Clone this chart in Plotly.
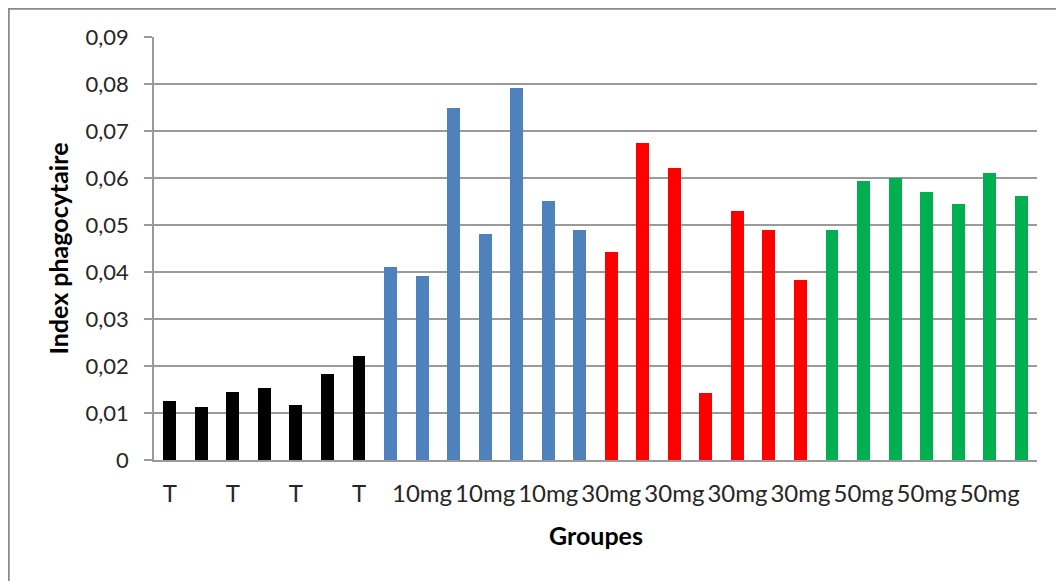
import plotly.graph_objects as go

# ---- data ----
groups = ["T", "10mg", "30mg", "50mg"]
group_colors = ["#000000", "#4F81BD", "#FF0000", "#00B050"]
values_T = [0.0126, 0.0113, 0.0145, 0.0154, 0.0118, 0.0184, 0.0222]
values_10mg = [0.0410, 0.0391, 0.0749, 0.0481, 0.0792, 0.0552, 0.0489]
values_30mg = [0.0443, 0.0674, 0.0621, 0.0143, 0.0530, 0.0489, 0.0383]
values_50mg = [0.0489, 0.0593, 0.0601, 0.0571, 0.0544, 0.0610, 0.0561]
y_tick_vals = [0, 0.01, 0.02, 0.03, 0.04, 0.05, 0.06, 0.07, 0.08, 0.09]
y_tick_text = ["0", "0,01", "0,02", "0,03", "0,04", "0,05", "0,06", "0,07", "0,08", "0,09"]
x_title = "Groupes"
y_title = "Index phagocytaire"

all_values = [values_T, values_10mg, values_30mg, values_50mg]

fig = go.Figure()
labels = []
pos = 1
for name, vals, col in zip(groups, all_values, group_colors):
    xs = list(range(pos, pos + len(vals)))
    labels += [name] * len(vals)
    fig.add_trace(go.Bar(x=xs, y=vals, width=0.41, name=name,
                         marker=dict(color=col, line=dict(width=0)),
                         showlegend=False))
    pos += len(vals)

n = len(labels)
tickvals = list(range(1, n + 1, 2))
ticktext = [labels[i - 1] for i in tickvals]

grid_col = "#9A9A9A"
W, H = 1056, 573
ML, MR, MT, MB = 146, 27, 29, 121
pw, ph = W - ML - MR, H - MT - MB

fig.update_layout(
    width=W, height=H,
    margin=dict(l=ML, r=MR, t=MT, b=MB),
    paper_bgcolor="white", plot_bgcolor="white",
    font=dict(family="Lato", size=23, color="#262626"),
    bargap=0,
)
fig.update_xaxes(range=[0.5, n + 0.5], tickmode="array", tickvals=tickvals,
                 ticktext=ticktext, tickangle=0, showgrid=False,
                 showline=True, linecolor=grid_col, linewidth=1.5,
                 ticks="", ticklabelstandoff=11, zeroline=False,
                 tickfont=dict(family="Lato", size=24, color="#262626"))
fig.update_yaxes(range=[0, 0.09], tickmode="array", tickvals=y_tick_vals,
                 ticktext=y_tick_text, showgrid=True, gridcolor=grid_col,
                 gridwidth=1.5, showline=True, linecolor=grid_col, linewidth=1.5,
                 ticks="outside", ticklen=8, tickcolor=grid_col, tickwidth=1.5,
                 ticklabelstandoff=11, zeroline=False,
                 tickfont=dict(family="Lato", size=22, color="#262626"))

fig.add_annotation(text="<b>" + y_title + "</b>", xref="paper", yref="paper",
                   x=0, y=0.5, xanchor="center", yanchor="middle", xshift=-97,
                   textangle=-90, showarrow=False,
                   font=dict(family="Lato", size=25, color="black"))
fig.add_annotation(text="<b>" + x_title + "</b>", xref="paper", yref="paper",
                   x=0.5, y=0, xanchor="center", yanchor="middle", yshift=-75,
                   showarrow=False,
                   font=dict(family="Lato", size=25, color="black"))

# chart-area border (left and top visible)
bx = (0.5 - ML) / pw
by = 1 + (MT - 0.5) / ph
fig.add_shape(type="path", xref="paper", yref="paper",
              path=f"M {bx},-0.40 L {bx},{by} L 1.10,{by}",
              line=dict(color="#8A8A8A", width=2.5))

fig.write_html("out.html")
